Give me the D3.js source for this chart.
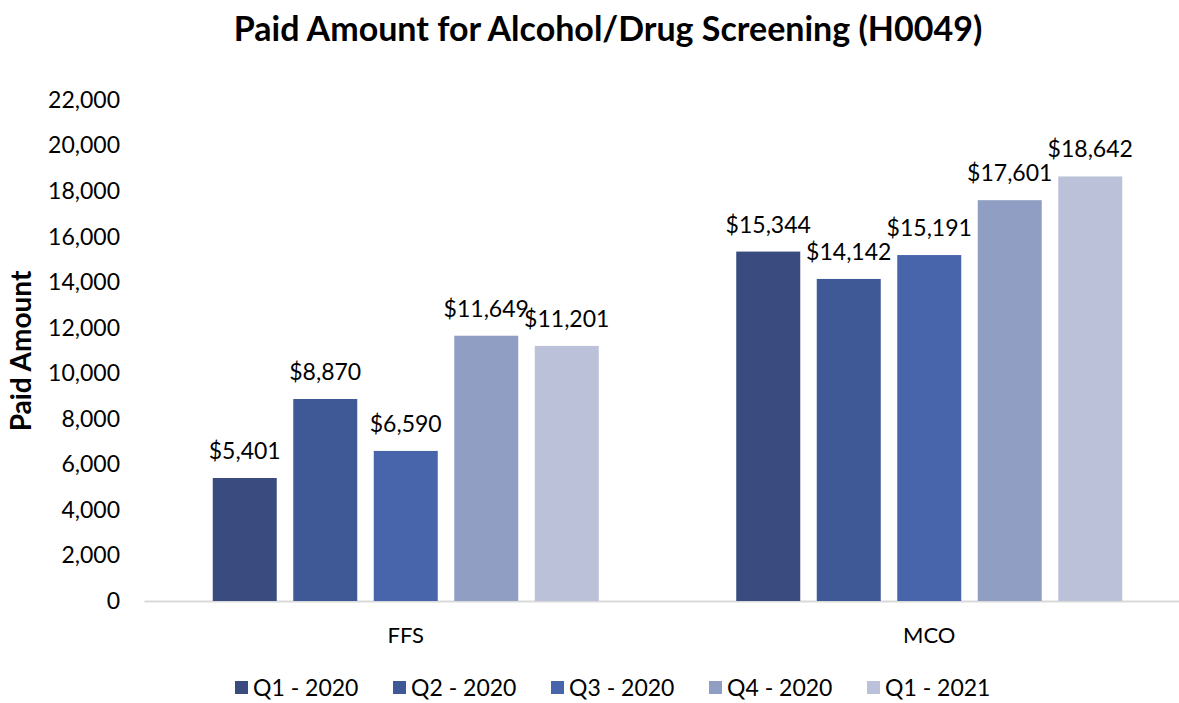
<!DOCTYPE html>
<html>
<head>
<meta charset="utf-8">
<script src="https://cdn.jsdelivr.net/npm/d3@7"></script>
<style>
  body { margin: 0; background: white; }
  text { font-family: Lato, "Open Sans", sans-serif; fill: #000; }
</style>
</head>
<body>
<div id="chart-area"></div>
<script>
// Data
const categories = ["FFS", "MCO"]
const series = ["Q1 - 2020", "Q2 - 2020", "Q3 - 2020", "Q4 - 2020", "Q1 - 2021"]
const ffsValues = [5401, 8870, 6590, 11649, 11201]
const mcoValues = [15344, 14142, 15191, 17601, 18642]
const yTicks = [0, 2000, 4000, 6000, 8000, 10000, 12000, 14000, 16000, 18000, 20000, 22000]
const colors = ["#394b7f", "#3f5896", "#4865ac", "#909ec3", "#bac1d8"]

const width = 1179, height = 703

const svg = d3.select("#chart-area").append("svg")
    .attr("width", width)
    .attr("height", height)

const rows = categories.map((c, i) => ({
    category: c,
    values: (i === 0 ? ffsValues : mcoValues).map((v, j) => ({ key: series[j], value: v }))
}))

// scales
const x0 = d3.scaleBand()
    .domain(categories)
    .range([144, 1191])

const x1 = d3.scaleBand()
    .domain(series)
    .range([68.75, x0.bandwidth() - 68.75])
    .paddingInner(0.205)

const y = d3.scaleLinear()
    .domain([0, 22000])
    .range([601, 100])

const color = d3.scaleOrdinal().domain(series).range(colors)

// Title
svg.append("text")
    .attr("x", 608)
    .attr("y", 41)
    .attr("text-anchor", "middle")
    .attr("font-size", "34px")
    .attr("font-weight", "bold")
    .text("Paid Amount for Alcohol/Drug Screening (H0049)")

// Y axis (labels only)
const yAxis = svg.append("g")
    .attr("transform", "translate(120, 0)")
    .call(d3.axisLeft(y).tickValues(yTicks).tickSize(0).tickPadding(0).tickFormat(d3.format(",")))
yAxis.select(".domain").remove()
yAxis.selectAll("text")
    .attr("font-size", "23px")
    .attr("font-family", "Lato, sans-serif")
    .attr("fill", "#000")

// Y label
svg.append("text")
    .attr("transform", "rotate(-90)")
    .attr("x", -351)
    .attr("y", 31)
    .attr("text-anchor", "middle")
    .attr("font-size", "28px")
    .attr("font-weight", "bold")
    .text("Paid Amount")

// X axis
const xAxis = svg.append("g")
    .attr("transform", "translate(0, 601)")
    .call(d3.axisBottom(x0).tickSize(0).tickPadding(26))
xAxis.select(".domain").attr("stroke", "#d9d9d9").attr("stroke-width", 2)
xAxis.selectAll("text")
    .attr("font-size", "22px")
    .attr("font-family", "Lato, sans-serif")
    .attr("fill", "#000")

// Bars
const groups = svg.selectAll("g.group")
    .data(rows)
    .join("g")
    .attr("class", "group")
    .attr("transform", d => `translate(${x0(d.category)}, 0)`)

groups.selectAll("rect")
    .data(d => d.values)
    .join("rect")
    .attr("x", d => x1(d.key))
    .attr("y", d => y(d.value))
    .attr("width", x1.bandwidth())
    .attr("height", d => y(0) - y(d.value))
    .attr("fill", d => color(d.key))

groups.selectAll("text.label")
    .data(d => d.values)
    .join("text")
    .attr("class", "label")
    .attr("x", d => x1(d.key) + x1.bandwidth() / 2)
    .attr("y", d => y(d.value) - 19)
    .attr("text-anchor", "middle")
    .attr("font-size", "23px")
    .text(d => d3.format("$,")(d.value))

// Legend
const legend = svg.append("g")
    .attr("transform", "translate(235, 688)")

const items = legend.selectAll("g")
    .data(series)
    .join("g")
    .attr("transform", (d, i) => `translate(${i * 158}, 0)`)

items.append("rect")
    .attr("x", 0)
    .attr("y", -7)
    .attr("width", 13)
    .attr("height", 13)
    .attr("fill", d => color(d))

items.append("text")
    .attr("x", 18)
    .attr("y", 0)
    .attr("dy", "0.35em")
    .attr("font-size", "23px")
    .text(d => d)
</script>
</body>
</html>
